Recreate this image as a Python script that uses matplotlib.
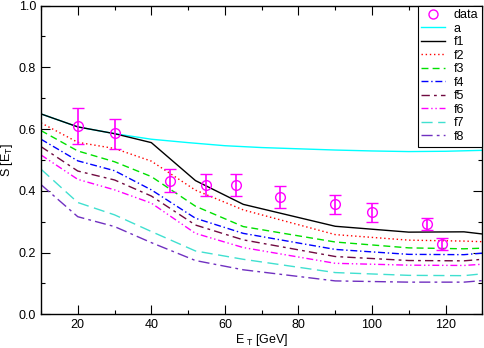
import numpy as np
import matplotlib
matplotlib.use('Agg')
import matplotlib.pyplot as plt
from matplotlib.ticker import MultipleLocator

plt.rcParams['font.family'] = ['Liberation Sans', 'DejaVu Sans']
plt.rcParams['mathtext.fontset'] = 'custom'
plt.rcParams['mathtext.rm'] = 'Liberation Sans'
plt.rcParams['mathtext.default'] = 'regular'

# measured points
data_x = [20, 30, 45, 55, 63, 75, 90, 100, 115, 119]
data_y = [0.611, 0.586, 0.433, 0.419, 0.419, 0.381, 0.356, 0.330, 0.292, 0.229]
data_lo = [0.552, 0.535, 0.395, 0.383, 0.383, 0.344, 0.325, 0.300, 0.273, 0.208]
data_hi = [0.669, 0.634, 0.470, 0.454, 0.454, 0.416, 0.387, 0.360, 0.311, 0.248]

# curve a
a_x = [10, 20, 30, 40, 50, 60, 70, 80, 90, 100, 110, 120, 130]
a_y = [0.649, 0.607, 0.585, 0.567, 0.556, 0.546, 0.540, 0.536, 0.532, 0.529, 0.527, 0.528, 0.531]

# curves f1..f8
f_x = [10, 20, 30, 40, 52, 65, 90, 110, 125, 130]
f1 = [0.649, 0.607, 0.585, 0.556, 0.433, 0.356, 0.285, 0.266, 0.267, 0.260]
f2 = [0.620, 0.557, 0.537, 0.496, 0.402, 0.338, 0.258, 0.240, 0.237, 0.235]
f3 = [0.595, 0.529, 0.494, 0.446, 0.350, 0.284, 0.234, 0.215, 0.212, 0.214]
f4 = [0.567, 0.497, 0.465, 0.403, 0.311, 0.262, 0.210, 0.194, 0.193, 0.198]
f5 = [0.543, 0.464, 0.435, 0.383, 0.289, 0.241, 0.187, 0.174, 0.173, 0.178]
f6 = [0.516, 0.437, 0.403, 0.360, 0.262, 0.216, 0.165, 0.159, 0.158, 0.162]
f7 = [0.470, 0.362, 0.322, 0.268, 0.205, 0.178, 0.135, 0.126, 0.125, 0.131]
f8 = [0.420, 0.316, 0.284, 0.232, 0.174, 0.144, 0.108, 0.104, 0.104, 0.109]

f_names = ['f1', 'f2', 'f3', 'f4', 'f5', 'f6', 'f7', 'f8']
f_colors = ['black', '#ff0000', '#00e000', '#0000ff', '#700a40', '#ff00ff', '#40e0d0', '#7030c0']
f_styles = ['-', (0, (1, 2)), (0, (5, 3)), (0, (5, 2, 1, 2)), (0, (6, 3, 2, 3)),
            (0, (5, 2, 1, 2, 1, 2)), (0, (8, 4)), (0, (8, 3, 2, 3))]

fig = plt.figure(figsize=(4.85, 3.48), dpi=100)
ax = fig.add_axes([0.0845, 0.097, 0.91, 0.887])

err = [np.array(data_y) - np.array(data_lo), np.array(data_hi) - np.array(data_y)]
ax.errorbar(data_x, data_y, yerr=err, fmt='o', mfc='none', mec='#ff00ff', ecolor='#ff00ff',
            ms=7, mew=1.0, elinewidth=1.2, capsize=4, capthick=1.2, zorder=5)

handles = [ax.plot([], [], 'o', mfc='none', mec='#ff00ff', ms=6.5, mew=1.0)[0]]
labels = ['data']
h, = ax.plot(a_x, a_y, color='cyan', lw=1.0)
handles.append(h)
labels.append('a')
for ys, name, c, ls in zip([f1, f2, f3, f4, f5, f6, f7, f8], f_names, f_colors, f_styles):
    h, = ax.plot(f_x, ys, color=c, ls=ls, lw=1.0)
    handles.append(h)
    labels.append(name)

ax.set_xlim(10, 130)
ax.set_ylim(0, 1.0)
ax.xaxis.set_major_locator(MultipleLocator(20))
ax.xaxis.set_minor_locator(MultipleLocator(10))
ax.yaxis.set_major_locator(MultipleLocator(0.2))
ax.yaxis.set_minor_locator(MultipleLocator(0.1))
ax.yaxis.set_major_formatter(matplotlib.ticker.FormatStrFormatter('%.1f'))
ax.tick_params(which='both', direction='in', top=True, right=True, labelsize=9)
ax.tick_params(which='major', length=6.5, width=0.8)
ax.tick_params(which='minor', length=3, width=0.8)
for s in ax.spines.values():
    s.set_linewidth(1.0)

ax.set_xlabel(r'E$_{\ T}$ [GeV]', fontsize=9, labelpad=1)
ax.set_ylabel(r'S [E$_{T}$]', fontsize=9)
ax.yaxis.set_label_coords(-0.058, 0.5)

leg = ax.legend(handles, labels, loc='upper right', fontsize=9, frameon=True, fancybox=False,
                edgecolor='black', framealpha=1, borderaxespad=0, labelspacing=0.12,
                handlelength=1.9, handletextpad=0.7, borderpad=0.3)
leg.get_frame().set_linewidth(0.8)

fig.savefig('out.png', dpi=100)
